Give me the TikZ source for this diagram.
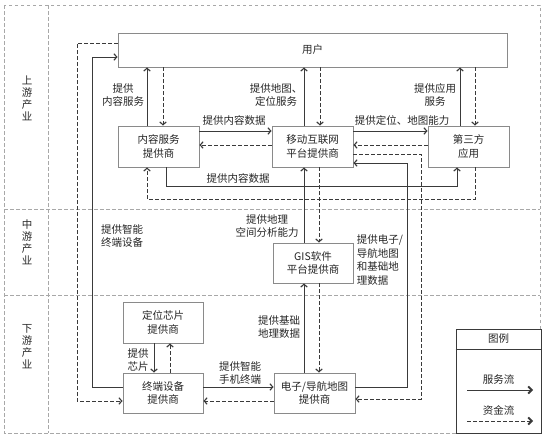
\documentclass[tikz,border=0pt]{standalone}
\usepackage{fontspec}
\setmainfont{Noto Sans CJK SC}
\usetikzlibrary{arrows.meta}
\definecolor{boxc}{HTML}{8A8A8A}
\definecolor{linec}{HTML}{3A3A3A}
\definecolor{txtc}{HTML}{262626}
\definecolor{framec}{HTML}{A8A8A8}
\begin{document}
\begin{tikzpicture}[x=1pt,y=-1pt,
  every node/.style={font=\fontsize{10.5}{13.5}\selectfont, text=txtc, inner sep=0pt},
  box/.style={draw=boxc, line width=0.8pt, align=center, fill=white},
  svc/.style={draw=linec, line width=0.8pt, -{Straight Barb[length=3pt,width=6.5pt,line width=1.1pt]}},
  fund/.style={draw=linec, line width=0.8pt, dash pattern=on 3.5pt off 2.5pt, -{Straight Barb[length=3pt,width=6.5pt,line width=1.1pt]}},
  frame/.style={draw=framec, line width=0.7pt, dash pattern=on 3.5pt off 2.5pt},
  lbl/.style={align=center},
  side/.style={align=center, font=\fontsize{10.5}{12}\selectfont}
]
\useasboundingbox (0,0) rectangle (545,442);
% frame
\draw[frame] (4,5) rectangle (540,433);
\draw[frame] (48,5) -- (48,433);
\draw[frame] (4,209) -- (540,209);
\draw[frame] (4,295) -- (540,295);
\node[side] (s1) at (27,98) {上\\游\\产\\业};
\node[side] (s2) at (27,242) {中\\游\\产\\业};
\node[side] (s3) at (27,347) {下\\游\\产\\业};

% boxes
\node[box, minimum width=389pt, minimum height=34pt] (user) at (312.5,50) {用户};
\node[box, minimum width=81pt, minimum height=41pt] (nr) at (158.5,146.5) {内容服务\\提供商};
\node[box, minimum width=81pt, minimum height=41pt] (yd) at (312.5,146.5) {移动互联网\\平台提供商};
\node[box, minimum width=81pt, minimum height=41pt] (ds) at (468.5,146.5) {第三方\\应用};
\node[box, minimum width=80pt, minimum height=40pt] (gis) at (313,263) {GIS软件\\平台提供商};
\node[box, minimum width=80pt, minimum height=41pt] (xp) at (163,322.5) {定位芯片\\提供商};
\node[box, minimum width=80pt, minimum height=40pt] (zd) at (163,393) {终端设备\\提供商};
\node[box, minimum width=81pt, minimum height=40pt] (dz) at (314.5,393) {电子/导航地图\\提供商};

% connectors
\draw[svc] (zd.west |- 0,387) -| (92,57) -- (user.west |- 0,57);
\draw[fund] (user.west |- 0,43) -| (77,401) -- (zd.west |- 0,401);
\draw[svc] (147,0 |- nr.north) -- (147,0 |- user.south);
\draw[fund] (163,0 |- user.south) -- (163,0 |- nr.north);
\draw[svc] (nr.east |- 0,131) -- (yd.west |- 0,131);
\draw[fund] (yd.west |- 0,145) -- (nr.east |- 0,145);
\draw[svc] (166,0 |- nr.south) |- (457,186) -- (457,0 |- ds.south);
\draw[fund] (475,0 |- ds.south) |- (147,199) -- (147,0 |- nr.south);
\draw[svc] (304,0 |- yd.north) -- (304,0 |- user.south);
\draw[fund] (320,0 |- user.south) -- (320,0 |- yd.north);
\draw[svc] (yd.east |- 0,131) -- (ds.west |- 0,131);
\draw[fund] (ds.west |- 0,145) -- (yd.east |- 0,145);
\draw[svc] (460,0 |- ds.north) -- (460,0 |- user.south);
\draw[fund] (475,0 |- user.south) -- (475,0 |- ds.north);
\draw[fund] (yd.east |- 0,154) -| (421,399) -- (dz.east |- 0,399);
\draw[svc] (dz.east |- 0,387) -| (407,163) -- (yd.east |- 0,163);
\draw[svc] (304,0 |- gis.north) -- (304,0 |- yd.south);
\draw[fund] (319,0 |- yd.south) -- (319,0 |- gis.north);
\draw[svc] (304,0 |- dz.north) -- (304,0 |- gis.south);
\draw[fund] (319,0 |- gis.south) -- (319,0 |- dz.north);
\draw[svc] (154,0 |- xp.south) -- (154,0 |- zd.north);
\draw[fund] (170,0 |- zd.north) -- (170,0 |- xp.south);
\draw[svc] (zd.east |- 0,387) -- (dz.west |- 0,387);
\draw[fund] (dz.west |- 0,401) -- (zd.east |- 0,401);

% labels
\node[lbl] (l1) at (123,95) {提供\\内容服务};
\node[lbl] (l2) at (276,95) {提供地图、\\定位服务};
\node[lbl] (l3) at (435,95) {提供应用\\服务};
\node[lbl] (l4) at (234,120) {提供内容数据};
\node[lbl] (l5) at (402,120) {提供定位、地图能力};
\node[lbl] (l6) at (238,178) {提供内容数据};
\node[align=left] (l7) at (122,236) {提供智能\\终端设备};
\node[lbl] (l8) at (267,226) {提供地理\\空间分析能力};
\node[align=left] (l9) at (380,260) {提供电子/\\导航地图\\和基础地\\理数据};
\node[lbl] (l10) at (279,327) {提供基础\\地理数据};
\node[lbl] (l11) at (138,360) {提供\\芯片};
\node[lbl] (l12) at (240,373) {提供智能\\手机终端};

% legend
\node[box, draw=linec, minimum width=85pt, minimum height=104pt] (lg) at (498.5,381) {};
\draw[linec, line width=0.8pt] (lg.west |- 0,349) -- (lg.east |- 0,349);
\node (lgt) at (498.5,339) {图例};
\node (lgs) at (498.5,380) {服务流};
\node (lgf) at (498.5,410) {资金流};
\coordinate (a1) at (467,390);
\coordinate (a2) at (533,390);
\coordinate (b1) at (467,421);
\coordinate (b2) at (533,421);
\draw[svc, -{Straight Barb[length=3.5pt,width=7pt,line width=1.8pt]}] (a1) -- (a2);
\draw[fund, -{Straight Barb[length=3.5pt,width=7pt,line width=1.8pt]}] (b1) -- (b2);
\end{tikzpicture}
\end{document}
